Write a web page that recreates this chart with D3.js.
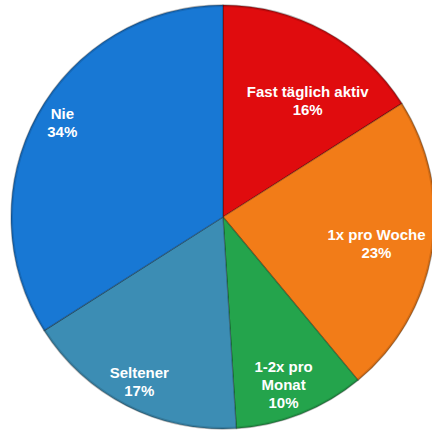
<!DOCTYPE html>
<html>
<head>
<meta charset="utf-8">
<script src="https://cdn.jsdelivr.net/npm/d3@7"></script>
<style>
  html, body { margin: 0; padding: 0; background: #ffffff; }
  svg { display: block; }
</style>
</head>
<body>
<svg id="chart" width="432" height="432"></svg>
<script>
// Survey: how often people are active (share of respondents, %)
const categories = ["Fast täglich aktiv", "1x pro Woche", "1-2x pro Monat", "Seltener", "Nie"];
const values = [16, 23, 10, 17, 34];
const labelLines = [
  ["Fast täglich aktiv", "16%"],
  ["1x pro Woche", "23%"],
  ["1-2x pro", "Monat", "10%"],
  ["Seltener", "17%"],
  ["Nie", "34%"]
];
const colors = ["#e00c0e", "#f27c18", "#24a44c", "#3c8db4", "#1878d4"];

// label placement: fraction of radius and angular nudge (radians) per slice
const labelRadius = [0.68, 0.735, 0.84, 0.87, 0.88];
const labelNudge = [0.125, 0.017, 0.03, 0.0, 0.03];

const width = 432, height = 432;
const cx = 223, cy = 217, radius = 212;

const svg = d3.select("#chart");
const g = svg.append("g").attr("transform", `translate(${cx},${cy})`);

const pie = d3.pie().sort(null).value(d => d.value);
const data = categories.map((c, i) => ({ name: c, value: values[i], lines: labelLines[i], color: colors[i], i }));
const arcs = pie(data);

const arc = d3.arc().innerRadius(0).outerRadius(radius);

g.selectAll("path.slice")
  .data(arcs)
  .join("path")
  .attr("class", "slice")
  .attr("d", arc)
  .attr("fill", d => d.data.color)
  .attr("stroke", "rgba(0,0,0,0.28)")
  .attr("stroke-width", 1.3)
  .attr("stroke-linejoin", "round");

// soft darker rim around the pie
g.append("circle")
  .attr("r", radius - 1)
  .attr("fill", "none")
  .attr("stroke", "rgba(0,0,0,0.12)")
  .attr("stroke-width", 2);

const fontSize = 15, lineH = 18;
g.selectAll("text.lbl")
  .data(arcs)
  .join("text")
  .attr("class", "lbl")
  .attr("text-anchor", "middle")
  .attr("font-family", "'Liberation Sans', Arial, sans-serif")
  .attr("font-weight", "bold")
  .attr("font-size", fontSize)
  .attr("fill", "#ffffff")
  .each(function (d) {
    const i = d.data.i;
    const a = (d.startAngle + d.endAngle) / 2 + labelNudge[i];
    const r = radius * labelRadius[i];
    const x = Math.sin(a) * r;
    const y = -Math.cos(a) * r;
    const n = d.data.lines.length;
    const t = d3.select(this);
    d.data.lines.forEach((line, k) => {
      t.append("tspan")
        .attr("x", x)
        .attr("y", y + (k - (n - 1) / 2) * lineH)
        .attr("dy", "0.35em")
        .text(line);
    });
  });
</script>
</body>
</html>
